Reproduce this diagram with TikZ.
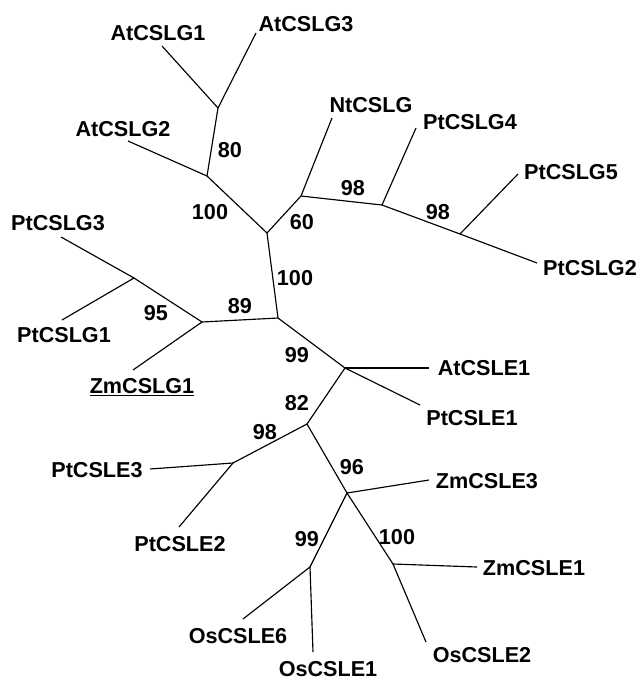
\documentclass[tikz,border=0pt]{standalone}
\usepackage{fontspec}
\setmainfont{Liberation Sans}[BoldFont={Liberation Sans Bold}]
\begin{document}
\begin{tikzpicture}[x=1pt,y=-1pt,
  edge/.style={line width=1.15pt,black},
  leaf/.style={font=\fontsize{21.6}{24}\selectfont\bfseries,inner sep=0pt,text depth=0pt,anchor=center,text=black},
  boot/.style={font=\fontsize{21.6}{24}\selectfont\bfseries,inner sep=0pt,text depth=0pt,anchor=center,text=black}]
\useasboundingbox (0,0) rectangle (641,681);
% internal nodes
\coordinate (a) at (218,108);
\coordinate (b) at (207,176);
\coordinate (c) at (267,233);
\coordinate (d) at (301,196);
\coordinate (e) at (382,205);
\coordinate (f) at (460,234);
\coordinate (R) at (278,318);
\coordinate (g) at (202,322);
\coordinate (h) at (134,278);
\coordinate (i) at (345,368);
\coordinate (j) at (307,424);
\coordinate (k) at (233,463);
\coordinate (l) at (347,493);
\coordinate (m) at (310,567);
\coordinate (n) at (393,564);
% leaf ends
\coordinate (eAtCSLGa) at (162,46);
\coordinate (eAtCSLGc) at (256,33);
\coordinate (eAtCSLGb) at (128,141);
\coordinate (eNtCSLG) at (332,118);
\coordinate (ePtCSLGd) at (416,128);
\coordinate (ePtCSLGe) at (518,174);
\coordinate (ePtCSLGb) at (537,263);
\coordinate (ePtCSLGc) at (61,237);
\coordinate (ePtCSLGa) at (62,320);
\coordinate (eZmCSLGa) at (133,370);
\coordinate (eAtCSLEa) at (429,368);
\coordinate (ePtCSLEa) at (420,405);
\coordinate (eZmCSLEc) at (429,480);
\coordinate (ePtCSLEc) at (150,469);
\coordinate (ePtCSLEb) at (179,527);
\coordinate (eOsCSLEf) at (243,619);
\coordinate (eOsCSLEa) at (313,652);
\coordinate (eZmCSLEa) at (477,567);
\coordinate (eOsCSLEb) at (426,642);
% internal edges
\draw[edge] (a) -- (b);
\draw[edge] (b) -- (c);
\draw[edge] (c) -- (d);
\draw[edge] (d) -- (e);
\draw[edge] (e) -- (f);
\draw[edge] (c) -- (R);
\draw[edge] (R) -- (g);
\draw[edge] (g) -- (h);
\draw[edge] (R) -- (i);
\draw[edge] (i) -- (j);
\draw[edge] (j) -- (k);
\draw[edge] (j) -- (l);
\draw[edge] (l) -- (m);
\draw[edge] (l) -- (n);
% leaf edges
\draw[edge] (a) -- (eAtCSLGa);
\draw[edge] (a) -- (eAtCSLGc);
\draw[edge] (b) -- (eAtCSLGb);
\draw[edge] (d) -- (eNtCSLG);
\draw[edge] (e) -- (ePtCSLGd);
\draw[edge] (f) -- (ePtCSLGe);
\draw[edge] (f) -- (ePtCSLGb);
\draw[edge] (h) -- (ePtCSLGc);
\draw[edge] (h) -- (ePtCSLGa);
\draw[edge] (g) -- (eZmCSLGa);
\draw[edge] (i) -- (eAtCSLEa);
\draw[edge] (i) -- (ePtCSLEa);
\draw[edge] (l) -- (eZmCSLEc);
\draw[edge] (k) -- (ePtCSLEc);
\draw[edge] (k) -- (ePtCSLEb);
\draw[edge] (m) -- (eOsCSLEf);
\draw[edge] (m) -- (eOsCSLEa);
\draw[edge] (n) -- (eZmCSLEa);
\draw[edge] (n) -- (eOsCSLEb);
% leaf labels
\node[leaf] (lAtCSLGa) at (158,33) {AtCSLG1};
\node[leaf] (lAtCSLGc) at (306,24) {AtCSLG3};
\node[leaf] (lAtCSLGb) at (123,129) {AtCSLG2};
\node[leaf] (lNtCSLG) at (371,105) {NtCSLG};
\node[leaf] (lPtCSLGd) at (470,122) {PtCSLG4};
\node[leaf] (lPtCSLGe) at (571,172) {PtCSLG5};
\node[leaf] (lPtCSLGb) at (590,268) {PtCSLG2};
\node[leaf] (lPtCSLGc) at (58,223) {PtCSLG3};
\node[leaf] (lPtCSLGa) at (64,335) {PtCSLG1};
\node[leaf] (lZmCSLGa) at (142,386) {\underline{ZmCSLG1}};
\node[leaf] (lAtCSLEa) at (484,368) {AtCSLE1};
\node[leaf] (lPtCSLEa) at (472,418) {PtCSLE1};
\node[leaf] (lZmCSLEc) at (487,481) {ZmCSLE3};
\node[leaf] (lPtCSLEc) at (97,470) {PtCSLE3};
\node[leaf] (lPtCSLEb) at (180,544) {PtCSLE2};
\node[leaf] (lOsCSLEf) at (238,636) {OsCSLE6};
\node[leaf] (lOsCSLEa) at (328,669) {OsCSLE1};
\node[leaf] (lZmCSLEa) at (534,568) {ZmCSLE1};
\node[leaf] (lOsCSLEb) at (482,655) {OsCSLE2};
% bootstrap values
\node[boot] (s1) at (230,150) {80};
\node[boot] (s2) at (210,212) {100};
\node[boot] (s3) at (302,222) {60};
\node[boot] (s4) at (353,188) {98};
\node[boot] (s5) at (438,212) {98};
\node[boot] (s6) at (156,313) {95};
\node[boot] (s7) at (240,306) {89};
\node[boot] (s8) at (295,278) {100};
\node[boot] (s9) at (297,355) {99};
\node[boot] (s10) at (297,403) {82};
\node[boot] (s11) at (265,432) {98};
\node[boot] (s12) at (352,467) {96};
\node[boot] (s13) at (307,539) {99};
\node[boot] (s14) at (397,537) {100};
\end{tikzpicture}
\end{document}
